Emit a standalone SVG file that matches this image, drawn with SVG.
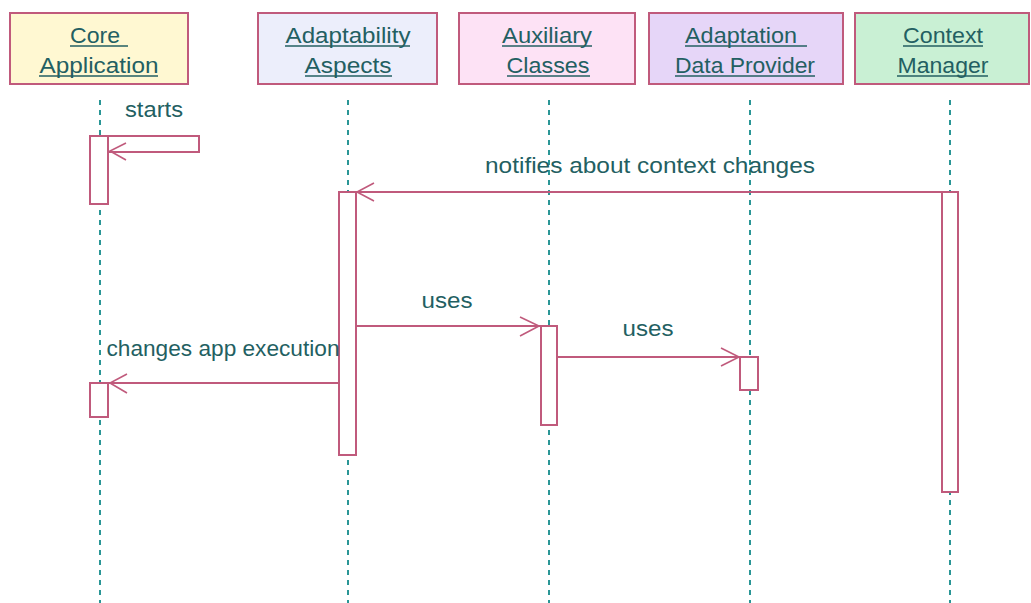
<svg xmlns="http://www.w3.org/2000/svg" width="1031" height="603" viewBox="0 0 1031 603">
<defs>
<style>
.hdr{stroke:#c05a7c;stroke-width:2}
.t{font-family:"Liberation Sans",Arial,sans-serif;font-size:22px;fill:#235f62;text-anchor:middle}
.ul{stroke:#235f62;stroke-width:1.6}
.life{stroke:#2a9696;stroke-width:2;stroke-dasharray:5 5;fill:none}
.act{fill:#ffffff;stroke:#c05a7c;stroke-width:2}
.msg{stroke:#c05a7c;stroke-width:2;fill:none}
.head{stroke:#c05a7c;stroke-width:1.6;fill:none}
</style>
</defs>
<rect width="1031" height="603" fill="#ffffff"/>

<g id="lifelines">
<line class="life" x1="100" y1="100" x2="100" y2="603"/>
<line class="life" x1="348" y1="100" x2="348" y2="603"/>
<line class="life" x1="549" y1="100" x2="549" y2="603"/>
<line class="life" x1="750" y1="100" x2="750" y2="603"/>
<line class="life" x1="950" y1="100" x2="950" y2="603"/>
</g>

<g id="core-application">
<rect class="hdr" x="10" y="13" width="178" height="71" fill="#fff8d2"/>
<text class="t" x="95" y="43" textLength="50" lengthAdjust="spacingAndGlyphs">Core</text>
<line class="ul" x1="70" y1="46" x2="128" y2="46"/>
<text class="t" x="99" y="73" textLength="119" lengthAdjust="spacingAndGlyphs">Application</text>
<line class="ul" x1="39" y1="76" x2="158" y2="76"/>
<rect class="act" x="90" y="136" width="18" height="68"/>
<rect class="act" x="90" y="383" width="18" height="34"/>
</g>

<g id="adaptability-aspects">
<rect class="hdr" x="258" y="13" width="179" height="71" fill="#eceefb"/>
<text class="t" x="348" y="43" textLength="125" lengthAdjust="spacingAndGlyphs">Adaptability</text>
<line class="ul" x1="285" y1="46" x2="410" y2="46"/>
<text class="t" x="348" y="73" textLength="87" lengthAdjust="spacingAndGlyphs">Aspects</text>
<line class="ul" x1="305" y1="76" x2="392" y2="76"/>
<rect class="act" x="339" y="192" width="17" height="263"/>
</g>

<g id="auxiliary-classes">
<rect class="hdr" x="459" y="13" width="176" height="71" fill="#fde2f5"/>
<text class="t" x="547" y="43" textLength="90" lengthAdjust="spacingAndGlyphs">Auxiliary</text>
<line class="ul" x1="502" y1="46" x2="592" y2="46"/>
<text class="t" x="548" y="73" textLength="83" lengthAdjust="spacingAndGlyphs">Classes</text>
<line class="ul" x1="507" y1="76" x2="590" y2="76"/>
<rect class="act" x="541" y="326" width="16" height="99"/>
</g>

<g id="adaptation-data-provider">
<rect class="hdr" x="649" y="13" width="194" height="71" fill="#e6d6f8"/>
<text class="t" x="741" y="43" textLength="112" lengthAdjust="spacingAndGlyphs">Adaptation</text>
<line class="ul" x1="685" y1="46" x2="807" y2="46"/>
<text class="t" x="745" y="73" textLength="140" lengthAdjust="spacingAndGlyphs">Data Provider</text>
<line class="ul" x1="675" y1="76" x2="815" y2="76"/>
<rect class="act" x="740" y="357" width="18" height="33"/>
</g>

<g id="context-manager">
<rect class="hdr" x="855" y="13" width="174" height="71" fill="#c9f0d4"/>
<text class="t" x="943" y="43" textLength="80" lengthAdjust="spacingAndGlyphs">Context</text>
<line class="ul" x1="903" y1="46" x2="983" y2="46"/>
<text class="t" x="943" y="73" textLength="91" lengthAdjust="spacingAndGlyphs">Manager</text>
<line class="ul" x1="897" y1="76" x2="988" y2="76"/>
<rect class="act" x="942" y="192" width="16" height="300"/>
</g>

<g id="connectors">
<!-- starts (self call) -->
<polyline class="msg" points="108,136 199,136 199,152 108,152"/>
<polyline class="head" points="126,143 110,151 126,160"/>
<text class="t" x="154" y="117" textLength="58" lengthAdjust="spacingAndGlyphs">starts</text>
<!-- notifies -->
<line class="msg" x1="942" y1="192" x2="356" y2="192"/>
<polyline class="head" points="374,183 357,192 374,201"/>
<text class="t" x="650" y="173" textLength="330" lengthAdjust="spacingAndGlyphs">notifies about context changes</text>
<!-- uses 1 -->
<line class="msg" x1="356" y1="326" x2="541" y2="326"/>
<polyline class="head" points="520,317 539,326 520,336"/>
<text class="t" x="447" y="308" textLength="51" lengthAdjust="spacingAndGlyphs">uses</text>
<!-- uses 2 -->
<line class="msg" x1="557" y1="357" x2="740" y2="357"/>
<polyline class="head" points="721,348 739,357 721,366"/>
<text class="t" x="648" y="336" textLength="51" lengthAdjust="spacingAndGlyphs">uses</text>
<!-- changes app execution -->
<line class="msg" x1="339" y1="383" x2="108" y2="383"/>
<polyline class="head" points="127,374 110,383 127,393"/>
<text class="t" x="223" y="356" textLength="233" lengthAdjust="spacingAndGlyphs">changes app execution</text>
</g>
</svg>
